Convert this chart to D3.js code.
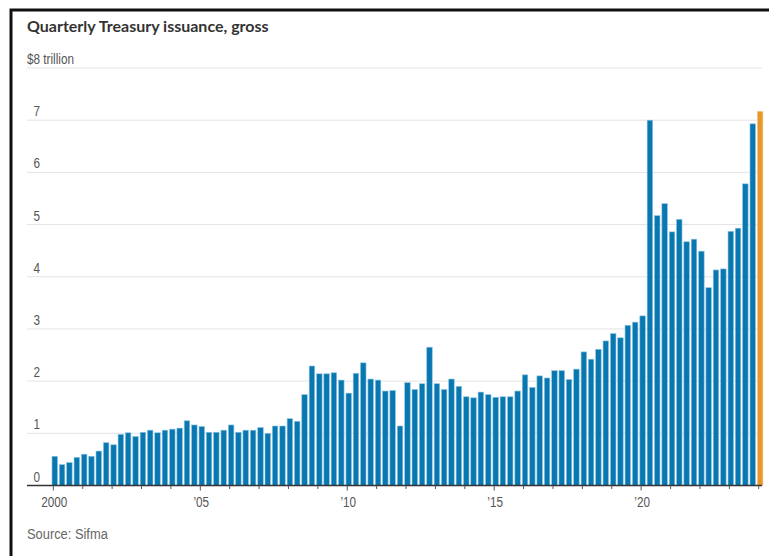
<!DOCTYPE html>
<html>
<head>
<meta charset="utf-8">
<script src="https://cdn.jsdelivr.net/npm/d3@7"></script>
<style>
  html, body { margin: 0; padding: 0; background: #fff; }
  svg { display: block; }
</style>
</head>
<body>
<svg id="chart" width="769" height="556"></svg>
<script>
// ---- Data (USD trillion, quarterly, 2000 Q1 .. 2024 Q1) ----
const startYear = 2000;
const values = [
  0.56, 0.40, 0.44, 0.54,   // 2000
  0.60, 0.56, 0.66, 0.82,   // 2001
  0.78, 0.98, 1.01, 0.94,   // 2002
  1.02, 1.06, 1.01, 1.06,   // 2003
  1.08, 1.10, 1.24, 1.16,   // 2004
  1.13, 1.02, 1.02, 1.06,   // 2005
  1.16, 1.02, 1.06, 1.06,   // 2006
  1.11, 1.00, 1.14, 1.14,   // 2007
  1.28, 1.23, 1.74, 2.29,   // 2008
  2.14, 2.14, 2.16, 2.02,   // 2009
  1.77, 2.15, 2.35, 2.04,   // 2010
  2.02, 1.81, 1.82, 1.14,   // 2011
  1.97, 1.84, 1.95, 2.65,   // 2012
  1.95, 1.84, 2.04, 1.90,   // 2013
  1.70, 1.68, 1.79, 1.74,   // 2014
  1.69, 1.70, 1.70, 1.81,   // 2015
  2.12, 1.88, 2.10, 2.06,   // 2016
  2.20, 2.20, 2.03, 2.23,   // 2017
  2.56, 2.42, 2.61, 2.77,   // 2018
  2.91, 2.83, 3.07, 3.13,   // 2019
  3.25, 7.00, 5.17, 5.40,   // 2020
  4.86, 5.10, 4.67, 4.72,   // 2021
  4.49, 3.79, 4.13, 4.15,   // 2022
  4.87, 4.93, 5.78, 6.93,   // 2023
  7.17                      // 2024 Q1 (highlighted)
];
const yTicks = [0, 1, 2, 3, 4, 5, 6, 7, 8];
const xMajorYears = [2000, 2005, 2010, 2015, 2020];
const xLabels = ["2000", "\u201905", "\u201910", "\u201915", "\u201920"];
const title = "Quarterly Treasury issuance, gross";
const unitLabel = "$8 trillion";
const source = "Source: Sifma";

// ---- Build records ----
const data = values.map((v, i) => ({
  date: new Date(startYear + Math.floor(i / 4), (i % 4) * 3, 1),
  value: v,
  last: i === values.length - 1
}));

const svg = d3.select("#chart");
const labelFont = "'Liberation Sans', Arial, sans-serif";

// Frame
svg.append("rect")
  .attr("x", 11).attr("y", 10)
  .attr("width", 820).attr("height", 620)
  .attr("fill", "none").attr("stroke", "#111").attr("stroke-width", 3);

// Scales
const x = d3.scaleTime()
  .domain([new Date(2000, 0, 1), new Date(2024, 0, 1)])
  .range([53.3, 758.7]);
const y = d3.scaleLinear().domain([0, 8]).range([485.5, 68]);
const gridLeft = 27, gridRight = 762;
const barW = 5.5, barOffset = -1.3;

// Title
svg.append("text")
  .attr("x", 27).attr("y", 32)
  .attr("font-family", "Lato, 'Open Sans', sans-serif")
  .attr("font-weight", 700).attr("font-size", 16)
  .attr("fill", "#333")
  .text(title);

// Gridlines
svg.append("g").selectAll("line")
  .data(yTicks.filter(d => d > 0))
  .join("line")
  .attr("x1", gridLeft).attr("x2", gridRight)
  .attr("y1", d => y(d)).attr("y2", d => y(d))
  .attr("stroke", "#e4e4e4").attr("stroke-width", 1);

// Y labels (condensed)
svg.append("g").selectAll("text")
  .data(yTicks)
  .join("text")
  .attr("transform", d => `translate(${d === 8 ? 27 : 33.5},${y(d) - 4}) scale(0.84,1)`)
  .attr("font-family", labelFont).attr("font-size", 14)
  .attr("fill", "#555")
  .text(d => d === 8 ? unitLabel : d);

// Bars
svg.append("g").selectAll("rect")
  .data(data)
  .join("rect")
  .attr("x", d => x(d.date) + barOffset)
  .attr("width", barW)
  .attr("y", d => y(d.value))
  .attr("height", d => y(0) - y(d.value))
  .attr("fill", d => d.last ? "#e8982a" : "#0a78b0")
  .attr("stroke", d => d.last ? "#f3c98a" : "#8cc4e2")
  .attr("stroke-width", 0.6);

// Axis line
svg.append("line")
  .attr("x1", gridLeft).attr("x2", gridRight)
  .attr("y1", y(0)).attr("y2", y(0))
  .attr("stroke", "#333").attr("stroke-width", 1.5);

// Year ticks
const years = d3.range(2000, 2025);
svg.append("g").selectAll("line")
  .data(years)
  .join("line")
  .attr("x1", d => x(new Date(d, 0, 1))).attr("x2", d => x(new Date(d, 0, 1)))
  .attr("y1", y(0))
  .attr("y2", d => y(0) + (xMajorYears.includes(d) ? 5 : 3.5))
  .attr("stroke", "#555").attr("stroke-width", 1);

// X labels (condensed)
svg.append("g").selectAll("text")
  .data(xMajorYears)
  .join("text")
  .attr("transform", d => `translate(${x(new Date(d, 0, 1)) + 1},506.5) scale(0.84,1)`)
  .attr("text-anchor", "middle")
  .attr("font-family", labelFont).attr("font-size", 14)
  .attr("fill", "#555")
  .text((d, i) => xLabels[i]);

// Source
svg.append("text")
  .attr("transform", "translate(27,539) scale(0.92,1)")
  .attr("font-family", labelFont).attr("font-size", 14)
  .attr("fill", "#666")
  .text(source);
</script>
</body>
</html>
